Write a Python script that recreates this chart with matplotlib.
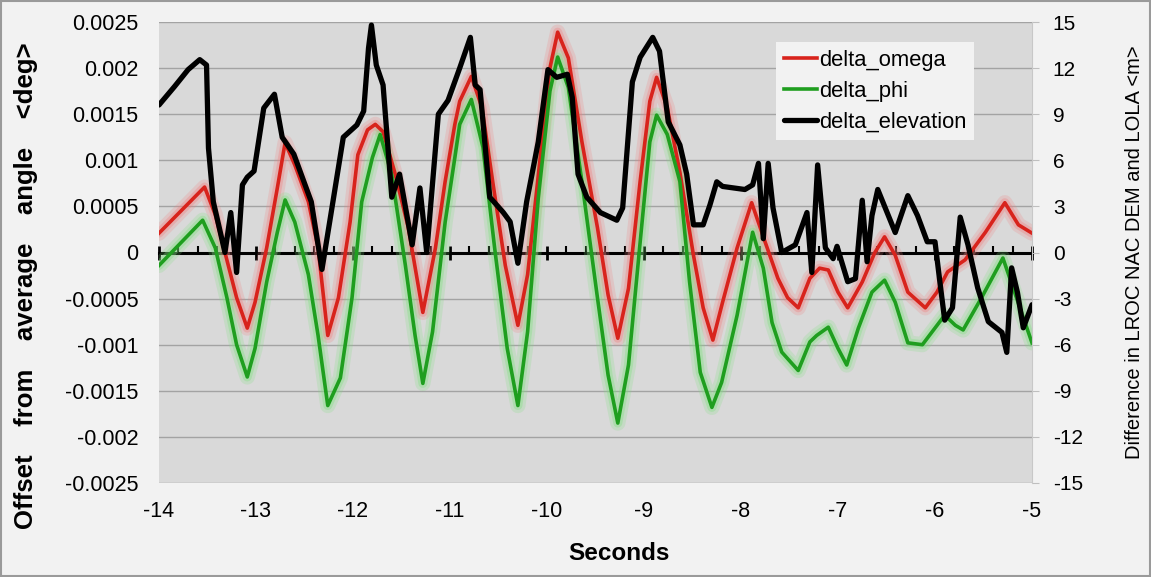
import matplotlib
matplotlib.use('Agg')
import matplotlib.pyplot as plt
import matplotlib.ticker as mtick
from matplotlib.patches import Rectangle

plt.rcParams['font.family'] = ['Liberation Sans', 'DejaVu Sans']
plt.rcParams['axes.unicode_minus'] = False

# ----------------------------------------------------------------------------
# Data
# ----------------------------------------------------------------------------
omega_t = [-14.00, -13.53, -13.42, -13.32, -13.20, -13.09, -13.01, -12.89, -12.78, -12.70,
           -12.60, -12.46, -12.36, -12.26, -12.15, -12.03, -11.95, -11.85, -11.77, -11.69,
           -11.57, -11.43, -11.28, -11.15, -11.05, -10.95, -10.90, -10.78, -10.67, -10.56,
           -10.43, -10.30, -10.20, -10.07, -9.97, -9.89, -9.78, -9.64, -9.48, -9.37,
           -9.27, -9.16, -9.04, -8.94, -8.87, -8.76, -8.63, -8.49, -8.39, -8.29,
           -8.19, -8.04, -7.89, -7.75, -7.62, -7.52, -7.41, -7.29, -7.19, -7.10,
           -7.00, -6.90, -6.75, -6.62, -6.52, -6.41, -6.28, -6.10, -5.98, -5.87,
           -5.69, -5.48, -5.28, -5.14, -5.00]
omega = [0.00021, 0.00071, 0.00041, 0.0, -0.00049, -0.00082, -0.00054, 0.00005, 0.00070, 0.00119,
         0.00095, 0.00055, 0.00005, -0.00090, -0.00049, 0.00033, 0.00106, 0.00133, 0.00139, 0.00131,
         0.00087, 0.00027, -0.00065, 0.00005, 0.00077, 0.00139, 0.00164, 0.00191, 0.00157, 0.00077,
         -0.00014, -0.00079, -0.00024, 0.00103, 0.00200, 0.00239, 0.00211, 0.00120, 0.00027, -0.00046,
         -0.00093, -0.00039, 0.00077, 0.00164, 0.00190, 0.00157, 0.00087, -0.00003, -0.00060, -0.00095,
         -0.00054, 0.00005, 0.00054, 0.00011, -0.00028, -0.00049, -0.00060, -0.00028, -0.00017, -0.00019,
         -0.00043, -0.00060, -0.00032, 0.0, 0.00017, -0.00003, -0.00043, -0.00060, -0.00043, -0.00021,
         -0.00008, 0.00022, 0.00054, 0.00030, 0.00021]

phi_t = [-14.00, -13.55, -13.42, -13.30, -13.20, -13.09, -13.01, -12.89, -12.78, -12.70,
         -12.60, -12.46, -12.36, -12.26, -12.13, -12.01, -11.91, -11.80, -11.72, -11.60,
         -11.46, -11.36, -11.28, -11.18, -11.05, -10.95, -10.90, -10.78, -10.66, -10.54,
         -10.41, -10.30, -10.20, -10.09, -9.97, -9.89, -9.78, -9.64, -9.48, -9.37,
         -9.27, -9.16, -9.04, -8.94, -8.87, -8.76, -8.63, -8.53, -8.42, -8.30,
         -8.20, -8.04, -7.88, -7.77, -7.68, -7.58, -7.41, -7.29, -7.22, -7.10,
         -7.00, -6.91, -6.79, -6.65, -6.52, -6.41, -6.28, -6.13, -5.90, -5.79,
         -5.71, -5.52, -5.30, -5.18, -5.00]
phi = [-0.00014, 0.00035, 0.00005, -0.00049, -0.00100, -0.00135, -0.00104, -0.00032, 0.00022, 0.00057,
       0.00033, -0.00024, -0.00090, -0.00166, -0.00136, -0.00049, 0.00055, 0.00103, 0.00128, 0.00084,
       -0.00014, -0.00090, -0.00142, -0.00086, 0.00033, 0.00103, 0.00139, 0.00166, 0.00114, 0.00005,
       -0.00104, -0.00166, -0.00086, 0.00059, 0.00175, 0.00212, 0.00179, 0.00077, -0.00049, -0.00133,
       -0.00185, -0.00122, 0.00011, 0.00120, 0.00149, 0.00128, 0.00077, -0.00032, -0.00130, -0.00168,
       -0.00141, -0.00068, 0.00022, -0.00017, -0.00076, -0.00108, -0.00128, -0.00097, -0.00090, -0.00081,
       -0.00104, -0.00122, -0.00082, -0.00043, -0.00030, -0.00054, -0.00098, -0.00100, -0.00068, -0.00079,
       -0.00084, -0.00049, -0.00006, -0.00043, -0.00098]

elev_t = [-14.00, -13.84, -13.70, -13.58, -13.51, -13.49, -13.44, -13.32, -13.26, -13.20,
          -13.14, -13.09, -13.02, -12.92, -12.81, -12.73, -12.61, -12.43, -12.32, -12.23,
          -12.10, -11.96, -11.89, -11.84, -11.81, -11.76, -11.69, -11.60, -11.52, -11.39,
          -11.31, -11.24, -11.12, -11.02, -10.90, -10.79, -10.74, -10.69, -10.59, -10.45,
          -10.38, -10.30, -10.21, -10.09, -9.99, -9.90, -9.79, -9.74, -9.68, -9.59,
          -9.45, -9.28, -9.22, -9.12, -9.04, -8.91, -8.84, -8.75, -8.63, -8.56,
          -8.49, -8.39, -8.32, -8.25, -8.19, -7.96, -7.88, -7.82, -7.77, -7.72,
          -7.67, -7.58, -7.44, -7.32, -7.27, -7.21, -7.13, -7.05, -7.01, -6.90,
          -6.82, -6.75, -6.70, -6.65, -6.59, -6.41, -6.28, -6.18, -6.08, -6.00,
          -5.95, -5.90, -5.82, -5.74, -5.66, -5.56, -5.45, -5.31, -5.26, -5.21,
          -5.15, -5.09, -5.00]
elev = [9.6, 10.8, 11.9, 12.55, 12.2, 6.8, 3.3, 0.0, 2.6, -1.3,
        4.4, 4.9, 5.3, 9.4, 10.3, 7.5, 6.4, 3.3, -1.1, 2.4,
        7.5, 8.3, 9.2, 13.3, 14.8, 12.2, 10.9, 3.6, 5.1, 0.5,
        4.2, 0.0, 9.0, 9.9, 12.0, 14.0, 10.9, 10.6, 3.6, 2.6,
        2.0, -0.7, 3.3, 7.2, 11.9, 11.4, 11.6, 10.1, 5.1, 3.6,
        2.6, 2.1, 2.9, 11.1, 12.7, 14.0, 13.1, 8.5, 7.0, 5.1,
        1.8, 1.8, 3.1, 4.6, 4.3, 4.1, 4.4, 5.8, 0.9, 5.8,
        2.9, 0.0, 0.5, 2.6, -1.3, 5.7, 0.3, -0.4, 0.4, -1.9,
        -1.7, 3.4, -0.6, 2.4, 4.1, 1.3, 3.7, 2.4, 0.7, 0.7,
        -1.9, -4.4, -3.6, 2.3, 0.5, -2.3, -4.5, -5.2, -6.5, -1.0,
        -2.6, -4.9, -3.4]

x_ticks = [-14, -13, -12, -11, -10, -9, -8, -7, -6, -5]
left_ticks = [-0.0025, -0.002, -0.0015, -0.001, -0.0005, 0, 0.0005, 0.001, 0.0015, 0.002, 0.0025]
right_ticks = [-15, -12, -9, -6, -3, 0, 3, 6, 9, 12, 15]

RED = '#d8231c'
GREEN = '#1f9e1f'

# ----------------------------------------------------------------------------
# Figure
# ----------------------------------------------------------------------------
fig = plt.figure(figsize=(11.51, 5.77), dpi=100, facecolor='#f2f2f2')
ax = fig.add_axes([159 / 1151, 1 - 483 / 577, 873 / 1151, 461 / 577])
ax.set_facecolor('#d9d9d9')

# glow + line for the two angle series
for t, v, glow in [(omega_t, omega, '#f08080'), (phi_t, phi, '#7fe07f')]:
    ax.plot(t, v, color=glow, lw=11, alpha=0.22, solid_capstyle='round',
            solid_joinstyle='round', zorder=3)
    ax.plot(t, v, color=glow, lw=6.5, alpha=0.35, solid_capstyle='round',
            solid_joinstyle='round', zorder=3)
l1, = ax.plot(omega_t, omega, color=RED, lw=2.6, solid_joinstyle='round', zorder=4,
              label='delta_omega')
l2, = ax.plot(phi_t, phi, color=GREEN, lw=2.6, solid_joinstyle='round', zorder=4,
              label='delta_phi')

ax.set_xlim(-14, -5)
ax.set_ylim(-0.0025, 0.0025)
ax.set_yticks(left_ticks)
ax.yaxis.set_major_formatter(mtick.FuncFormatter(lambda v, p: '0' if v == 0 else f'{v:g}'))
ax.yaxis.grid(True, color='#a3a3a3', lw=1)
ax.set_axisbelow(True)
ax.tick_params(axis='y', length=0, labelsize=15.5, pad=15)

# x axis drawn at y = 0, labels at the bottom
for s in ['left', 'right', 'top']:
    ax.spines[s].set_visible(False)
ax.spines['bottom'].set_position(('data', 0))
ax.spines['bottom'].set_linewidth(2.2)
ax.spines['bottom'].set_zorder(2.5)
ax.set_xticks(x_ticks)
ax.xaxis.set_minor_locator(mtick.MultipleLocator(0.2))
ax.tick_params(axis='x', which='major', direction='inout', length=10, width=2, labelbottom=False)
ax.tick_params(axis='x', which='minor', direction='in', length=5, width=1.5)

sec = ax.secondary_xaxis('bottom')
sec.set_xticks(x_ticks)
sec.tick_params(length=0, labelsize=15.5, pad=13)
sec.spines['bottom'].set_visible(False)

# elevation on the right axis
ax2 = ax.twinx()
l3, = ax2.plot(elev_t, elev, color='black', lw=3.8, solid_joinstyle='round',
               solid_capstyle='round', zorder=5, label='delta_elevation')
ax2.set_ylim(-15, 15)
ax2.set_yticks(right_ticks)
ax2.tick_params(axis='y', length=5, color='#bfbfbf', labelsize=15, pad=10)
for s in ['left', 'top', 'bottom']:
    ax2.spines[s].set_visible(False)
ax2.spines['right'].set_color('#c8c8c8')

leg = ax2.legend(handles=[l1, l2, l3], loc='upper left',
                 bbox_to_anchor=((776 - 159) / 873, (483 - 42) / 461),
                 borderaxespad=0, frameon=True, fancybox=False, facecolor='#f2f2f2',
                 edgecolor='none', framealpha=1, fontsize=15.8, handlelength=1.5,
                 handletextpad=0.1, labelspacing=0.45, borderpad=0.35)

fig.text(26 / 1151, 1 - 286 / 577, 'Offset    from    average    angle    <deg>',
         rotation=90, ha='center', va='center', fontsize=18.5, fontweight='bold')
fig.text(1134 / 1151, 1 - 252 / 577, 'Difference in LROC NAC DEM and LOLA <m>',
         rotation=90, ha='center', va='center', fontsize=14.5)
fig.text(619 / 1151, 1 - 553 / 577, 'Seconds', ha='center', va='center',
         fontsize=17.5, fontweight='bold')

fig.patches.append(Rectangle((0.001, 0.002), 0.998, 0.996, transform=fig.transFigure,
                             fill=False, edgecolor='#9a9a9a', lw=1.5))

fig.savefig('out.png', dpi=100, facecolor=fig.get_facecolor())
